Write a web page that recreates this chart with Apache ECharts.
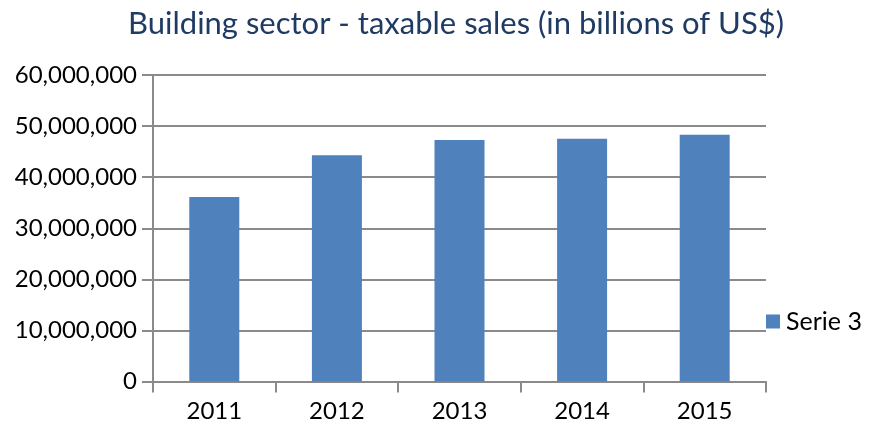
<!DOCTYPE html>
<html>
<head>
<meta charset="utf-8">
<script src="https://cdn.jsdelivr.net/npm/echarts@6/dist/echarts.min.js"></script>
<style>
  html, body { margin: 0; padding: 0; background: #fff; }
  #chart { width: 891px; height: 426px; }
</style>
</head>
<body>
<div id="chart"></div>
<script>
// Taxable sales of the building sector per year
const years = ['2011', '2012', '2013', '2014', '2015'];
const serie3 = [36100000, 44300000, 47300000, 47500000, 48300000];

const chart = echarts.init(document.getElementById('chart'));
const axisGray = '#8a8a8a';
chart.setOption({
  animation: false,
  title: {
    text: 'Building sector - taxable sales (in billions of US$)',
    left: 451,
    textAlign: 'center',
    top: 3,
    textStyle: { fontFamily: 'Lato', fontSize: 31, fontWeight: 'normal', color: '#1f3b63' }
  },
  legend: {
    data: ['Serie 3'],
    orient: 'vertical',
    left: 761,
    top: 304,
    itemWidth: 14,
    itemHeight: 14,
    itemGap: 6,
    icon: 'rect',
    textStyle: { fontFamily: 'Lato', fontSize: 25, color: '#000', padding: [0, 0, 0, 1] }
  },
  grid: { left: 153, right: 125, top: 75, bottom: 44.5 },
  xAxis: {
    type: 'category',
    data: years,
    axisLine: { lineStyle: { color: axisGray, width: 2 } },
    axisTick: { show: true, length: 11, alignWithLabel: false, lineStyle: { color: axisGray, width: 2 } },
    axisLabel: { fontFamily: 'Lato', fontSize: 24, color: '#000', margin: 18 }
  },
  yAxis: {
    type: 'value',
    min: 0,
    max: 60000000,
    interval: 10000000,
    axisLine: { show: true, lineStyle: { color: axisGray, width: 2 } },
    axisTick: { show: true, length: 11, inside: false, lineStyle: { color: axisGray, width: 2 } },
    splitLine: { lineStyle: { color: axisGray, width: 2 } },
    axisLabel: {
      fontFamily: 'Lato', fontSize: 24, color: '#000', margin: 16,
      formatter: v => v.toLocaleString('en-US')
    }
  },
  series: [{
    name: 'Serie 3',
    type: 'bar',
    data: serie3,
    barWidth: 50,
    itemStyle: { color: '#4f81bd' }
  }]
});
</script>
</body>
</html>
